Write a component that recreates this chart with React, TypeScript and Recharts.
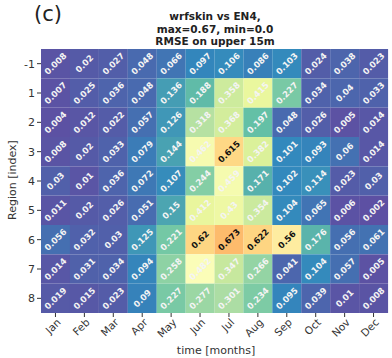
import React from "react";
import { BarChart, Bar, XAxis, YAxis, Cell, LabelList } from "recharts";

const months = ["Jan", "Feb", "Mar", "Apr", "May", "Jun", "Jul", "Aug", "Sep", "Oct", "Nov", "Dec"];
const regions = ["-1", "1", "2", "3", "4", "5", "6", "7", "8"];

// RMSE per region (rows) and month (columns)
const rowM1 = [0.008, 0.02, 0.027, 0.048, 0.066, 0.097, 0.106, 0.086, 0.103, 0.024, 0.038, 0.023];
const row1 = [0.007, 0.025, 0.036, 0.048, 0.136, 0.188, 0.358, 0.415, 0.227, 0.034, 0.04, 0.033];
const row2 = [0.004, 0.012, 0.022, 0.057, 0.126, 0.318, 0.368, 0.197, 0.048, 0.026, 0.005, 0.014];
const row3 = [0.008, 0.02, 0.033, 0.079, 0.144, 0.462, 0.615, 0.382, 0.101, 0.093, 0.06, 0.014];
const row4 = [0.03, 0.01, 0.036, 0.072, 0.107, 0.244, 0.459, 0.171, 0.102, 0.114, 0.023, 0.03];
const row5 = [0.011, 0.02, 0.026, 0.051, 0.15, 0.412, 0.43, 0.354, 0.104, 0.065, 0.006, 0.002];
const row6 = [0.056, 0.032, 0.03, 0.125, 0.221, 0.62, 0.673, 0.622, 0.56, 0.176, 0.056, 0.061];
const row7 = [0.014, 0.031, 0.034, 0.094, 0.258, 0.482, 0.347, 0.266, 0.041, 0.104, 0.057, 0.005];
const row8 = [0.019, 0.015, 0.023, 0.09, 0.227, 0.277, 0.301, 0.234, 0.095, 0.039, 0.01, 0.008];
const rows = [rowM1, row1, row2, row3, row4, row5, row6, row7, row8];

// Spectral_r, vmin 0 / vmax 1
const spectral = ["#5e4fa2", "#3288bd", "#66c2a5", "#abdda4", "#e6f598", "#ffffbf", "#fee08b", "#fdae61", "#f46d43", "#d53e4f", "#9e0142"];

const hex = (h: string) => [1, 3, 5].map((i) => parseInt(h.slice(i, i + 2), 16));
function colorFor(v: number) {
  const t = Math.max(0, Math.min(1, v)) * (spectral.length - 1);
  const i = Math.min(Math.floor(t), spectral.length - 2);
  const f = t - i;
  const a = hex(spectral[i]);
  const b = hex(spectral[i + 1]);
  const c = a.map((x, k) => Math.round(x + (b[k] - x) * f));
  return `rgb(${c[0]},${c[1]},${c[2]})`;
}

const data = months.map((m, j) => {
  const d: any = { month: m };
  rows.forEach((r, i) => {
    d[`r${i}`] = 1;
    d[`v${i}`] = r[j];
  });
  return d;
});

const font = "'DejaVu Sans', sans-serif";

const CellLabel = (props: any) => {
  const { x, y, width, height, value } = props;
  const cx = x + width / 2;
  const cy = y + height / 2;
  return (
    <text x={cx} y={cy} dy={3} textAnchor="middle" transform={`rotate(-45, ${cx}, ${cy})`}
      fontSize={8.5} fontWeight="bold" fontFamily={font} fill={value > 0.5 ? "#111" : "#f4f4f4"}>
      {value}
    </text>
  );
};

const MonthTick = ({ x, y, payload }: any) => (
  <text x={x + 6} y={y + 4} textAnchor="end" transform={`rotate(-45, ${x + 6}, ${y + 4})`}
    fontSize={10.5} fontFamily={font} fill="#333">
    {payload.value}
  </text>
);

export default function App() {
  return (
    <div style={{ position: "absolute", left: 0, top: 0, width: 392, height: 358, background: "#fff", fontFamily: font }}>
      <div style={{ position: "absolute", left: 34, top: 2, fontSize: 21, color: "#222" }}>(c)</div>
      <div style={{ position: "absolute", left: 115, width: 200, top: 10, textAlign: "center", fontSize: 10.5,
        fontWeight: "bold", lineHeight: "12.5px", color: "#222" }}>
        wrfskin vs EN4,<br />max=0.67, min=0.0<br />RMSE on upper 15m
      </div>
      <BarChart width={392} height={358} data={data} barCategoryGap={0}
        margin={{ top: 49, right: 4, left: 0, bottom: 0 }}>
        <XAxis dataKey="month" height={45} tick={<MonthTick />} axisLine={false}
          tickLine={{ stroke: "#333" }} tickSize={4} interval={0} />
        <YAxis type="number" domain={[0, 9]} reversed width={41} ticks={regions.map((_, i) => i + 0.5)}
          tickFormatter={(v: number) => regions[Math.floor(v)]} axisLine={false}
          tickLine={{ stroke: "#333" }} tickSize={4}
          tick={{ fontSize: 11, fill: "#333", fontFamily: font }} />
        {rows.map((r, i) => (
          <Bar key={i} dataKey={`r${i}`} stackId="a" isAnimationActive={false}>
            {r.map((v, j) => <Cell key={j} fill={colorFor(v)} />)}
            <LabelList dataKey={`v${i}`} content={<CellLabel />} />
          </Bar>
        ))}
      </BarChart>
      <div style={{ position: "absolute", left: 0, width: 432, top: 344, textAlign: "center", fontSize: 11, color: "#333" }}>
        time [months]
      </div>
      <div style={{ position: "absolute", left: 12, top: 180, fontSize: 11, color: "#333",
        transform: "translate(-50%, -50%) rotate(-90deg)", whiteSpace: "nowrap" }}>
        Region [index]
      </div>
    </div>
  );
}
